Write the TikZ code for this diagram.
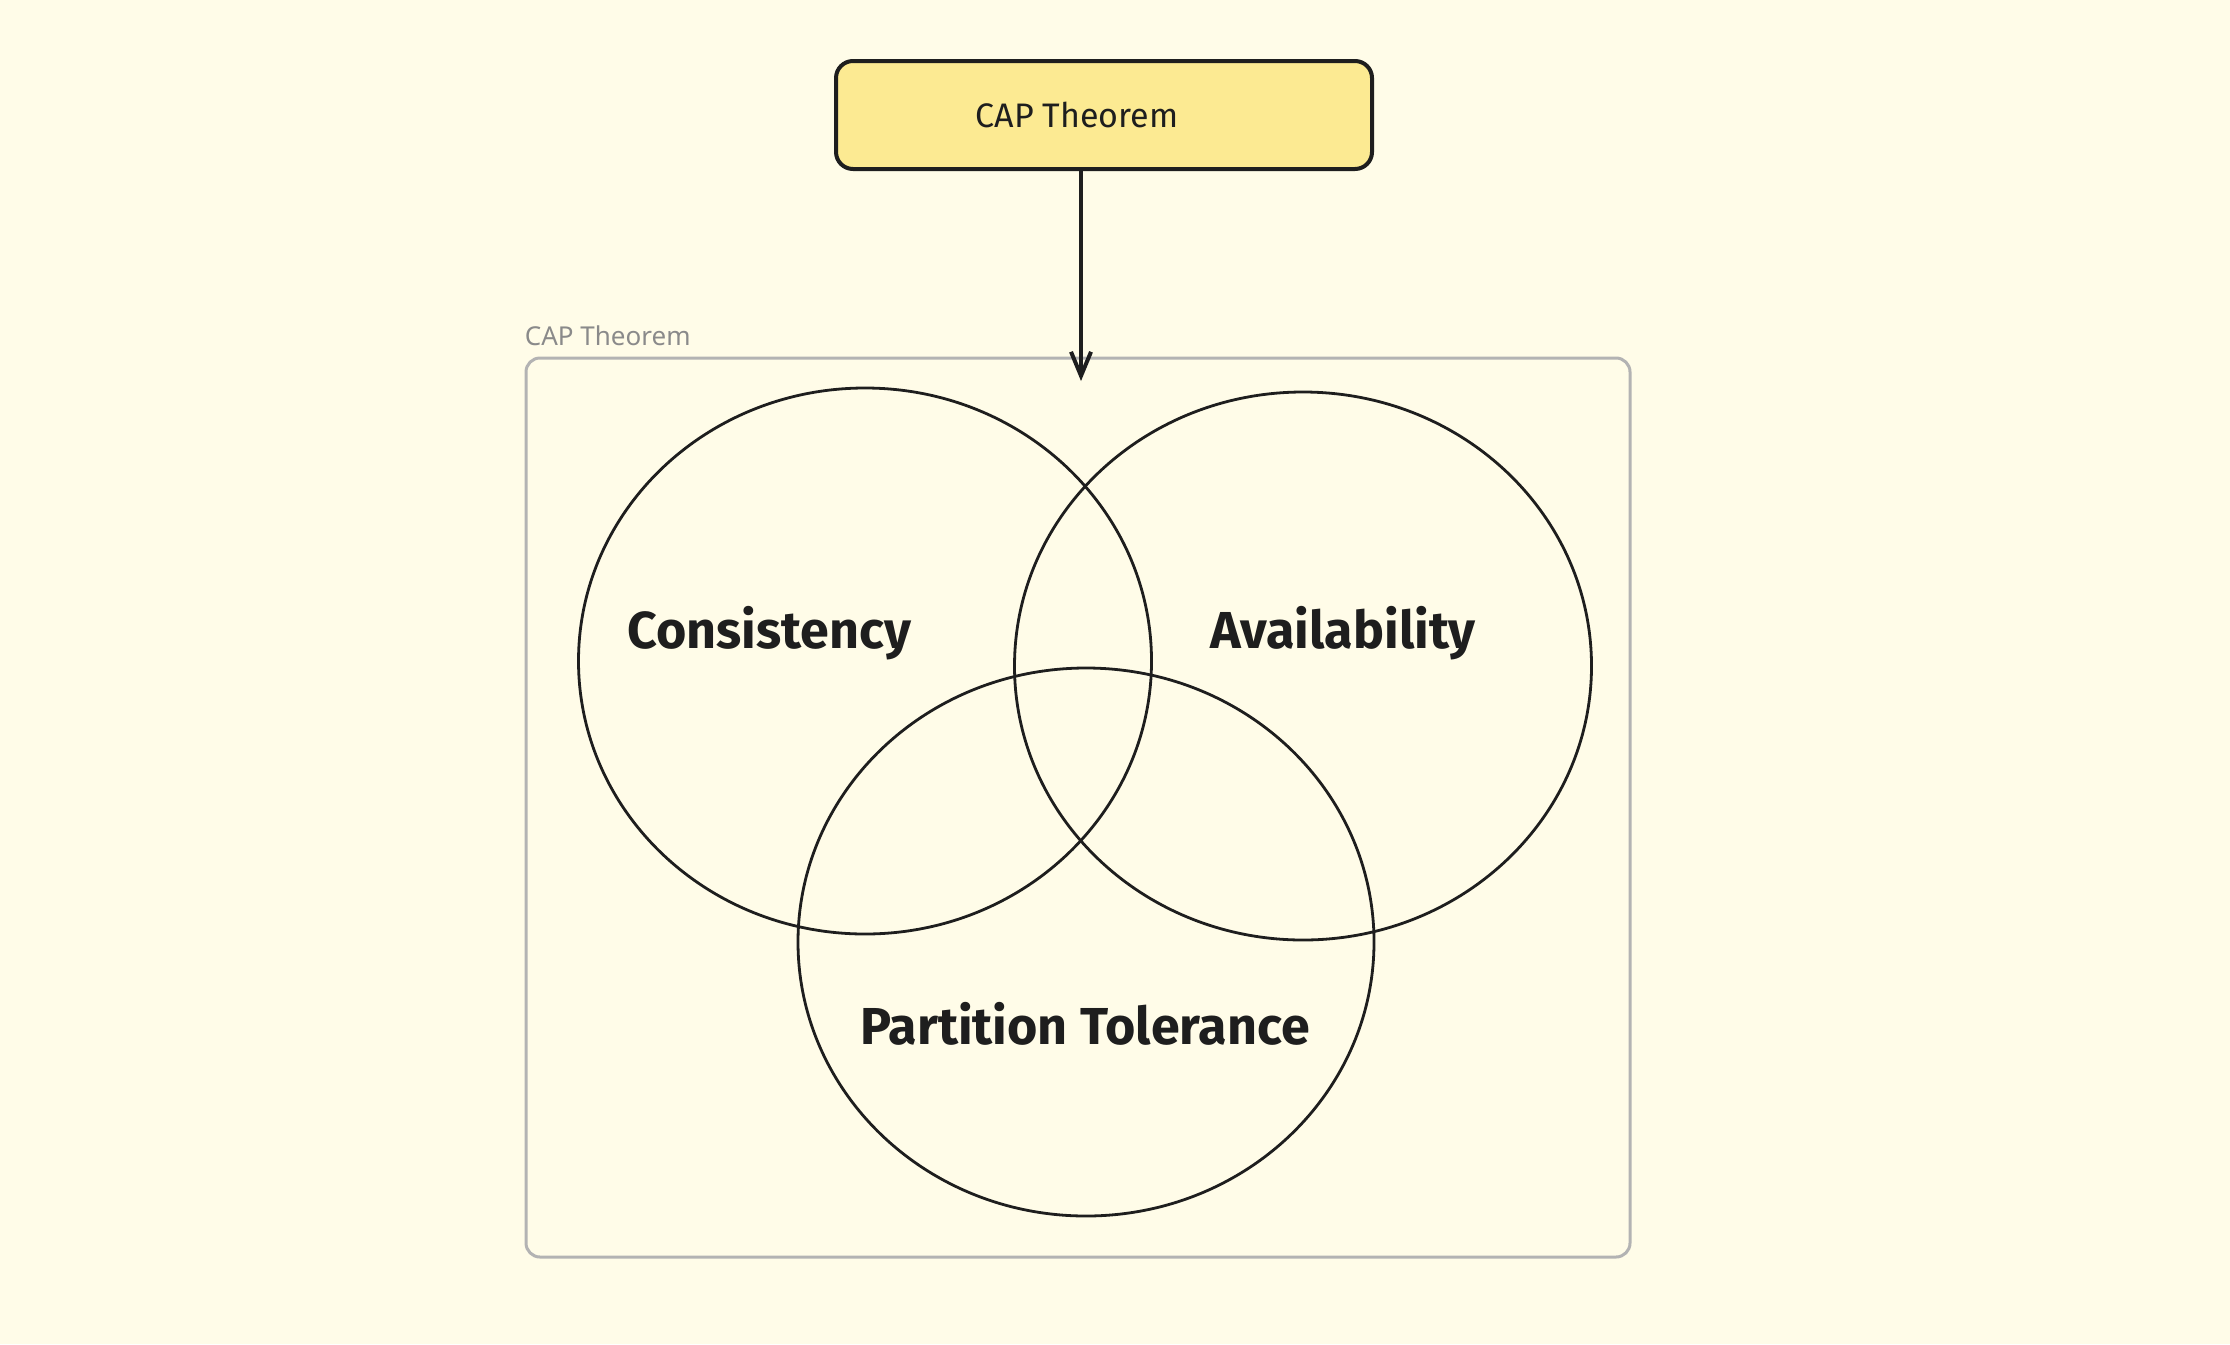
\documentclass[tikz,border=0pt]{standalone}
\usepackage{fontspec}
\setmainfont{Fira Sans}
\newfontfamily\framefont{Noto Sans}
\usetikzlibrary{arrows.meta,shapes.geometric}
\definecolor{paper}{HTML}{FFFCE8}
\definecolor{pen}{HTML}{1E1E1E}
\definecolor{note}{HTML}{FCEA92}
\definecolor{framegray}{HTML}{B3B3B3}
\definecolor{labelgray}{HTML}{8A8A8A}
\tikzset{
  notebox/.style={draw=pen,fill=note,line width=2pt,rounded corners=8.5pt,
    minimum width=268pt,minimum height=54pt,font=\fontsize{17}{19}\selectfont,text=pen},
  setcircle/.style={draw=pen,ellipse,line width=1.4pt,inner sep=0pt},
  setlabel/.style={text=pen,font=\fontsize{26}{29}\selectfont\bfseries},
  groupframe/.style={draw=framegray,line width=1.5pt,rounded corners=7pt,
    minimum width=552pt,minimum height=449.5pt},
}
\begin{document}
\begin{tikzpicture}[x=0.5pt,y=-0.5pt]
\fill[paper] (0,0) rectangle (2230,1344);
\useasboundingbox (0,0) rectangle (2230,1344);
% group frame and its caption
\node[groupframe] (frame) at (1078,807.5) {};
\node[anchor=south west,inner sep=0pt,text=labelgray,font=\framefont\fontsize{13}{15}\selectfont]
  (framelabel) at ([yshift=5pt]frame.north west) {CAP Theorem};
% heading box and arrow
\node[notebox] (thm) at (1104,115) {CAP Theorem\hspace*{27pt}};
\coordinate (tip) at (1081,381);
\draw[pen,line width=2pt,-{Straight Barb[length=12pt,width=10pt]}] (thm.south -| tip) -- (tip);
% the three sets
\node[setcircle,minimum width=286.5pt,minimum height=273pt] (cons) at (865,661) {};
\node[setcircle,minimum width=288.5pt,minimum height=274pt] (avail) at (1303,666) {};
\node[setcircle,minimum width=288pt,minimum height=274pt] (part) at (1086,942) {};
\node[setlabel] (conslabel) at (769,633) {Consistency};
\node[setlabel] (availlabel) at (1343,633) {Availability};
\node[setlabel] (partlabel) at (1085,1024) {Partition Tolerance};
\end{tikzpicture}
\end{document}
